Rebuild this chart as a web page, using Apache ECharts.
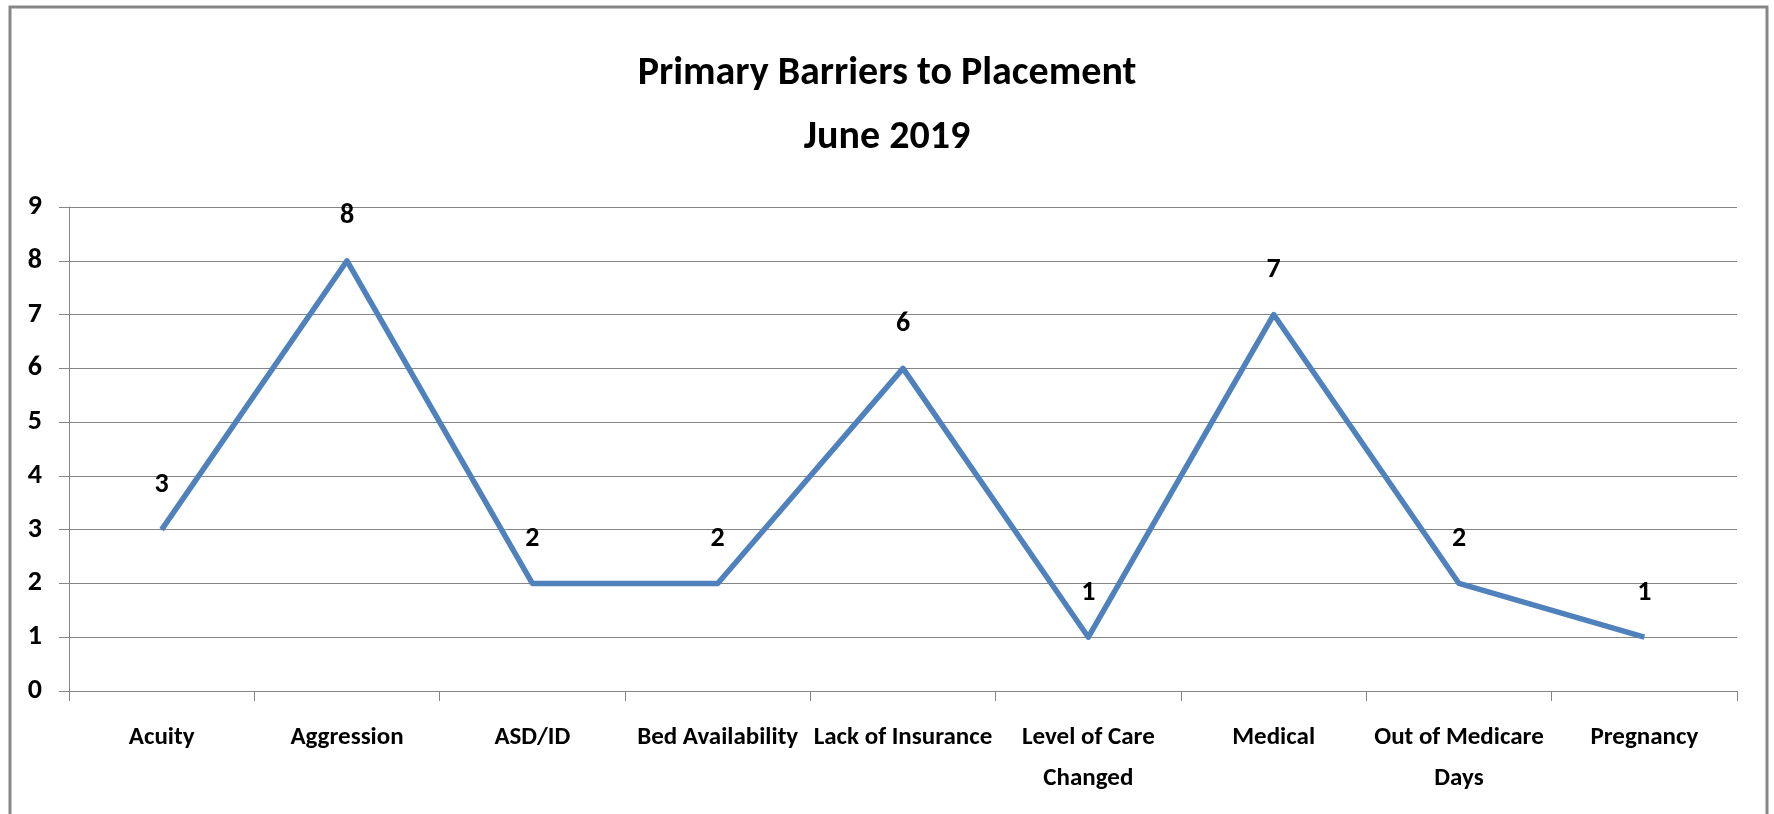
<!DOCTYPE html>
<html><head><meta charset="utf-8">
<script src="https://cdn.jsdelivr.net/npm/echarts@6/dist/echarts.min.js"></script>
<style>html,body{margin:0;padding:0;background:#fff}#c{width:1774px;height:814px}</style>
</head><body><div id="c"></div>
<script>
const categories = ['Acuity','Aggression','ASD/ID','Bed Availability','Lack of Insurance','Level of Care\nChanged','Medical','Out of Medicare\nDays','Pregnancy'];
const values = [3,8,2,2,6,1,7,2,1];
const yTicks = [0,1,2,3,4,5,6,7,8,9];
const titleLines = ['Primary Barriers to Placement','June 2019'];

const FONT = "'Carlito','Liberation Sans Narrow','Noto Sans',sans-serif";
const chart = echarts.init(document.getElementById('c'));
chart.setOption({
  animation:false,
  backgroundColor:'#fff',
  graphic:[{type:'rect',shape:{x:10,y:7,width:1757,height:830},style:{fill:'none',stroke:'#878787',lineWidth:3},silent:true}],
  title:{text:titleLines.join('\n'),left:'center',top:37,
    textStyle:{fontFamily:FONT,fontWeight:'bold',fontSize:40,lineHeight:64,color:'#000'}},
  grid:{left:69,right:37,top:207,bottom:123,containLabel:false},
  xAxis:{type:'category',data:categories,boundaryGap:true,
    axisLine:{lineStyle:{color:'#868686',width:1}},
    axisTick:{show:true,length:10,alignWithLabel:false,lineStyle:{color:'#868686'}},
    axisLabel:{interval:0,margin:26,fontFamily:FONT,fontWeight:'bold',fontSize:25,lineHeight:41,color:'#000'}},
  yAxis:{type:'value',min:yTicks[0],max:yTicks[yTicks.length-1],interval:1,
    axisLine:{show:true,lineStyle:{color:'#868686',width:1}},
    axisTick:{show:true,length:10,lineStyle:{color:'#868686'}},
    splitLine:{lineStyle:{color:'#868686',width:1}},
    axisLabel:{margin:27,fontFamily:FONT,fontWeight:'bold',fontSize:28,color:'#000'}},
  series:[{type:'line',data:values,symbol:'circle',symbolSize:1,showSymbol:true,
    itemStyle:{color:'#4F81BD'},
    lineStyle:{color:'#4F81BD',width:5.5,join:'round'},
    label:{show:true,position:'top',distance:30,fontFamily:FONT,fontWeight:'bold',fontSize:28,color:'#000'}}]
});
</script></body></html>
